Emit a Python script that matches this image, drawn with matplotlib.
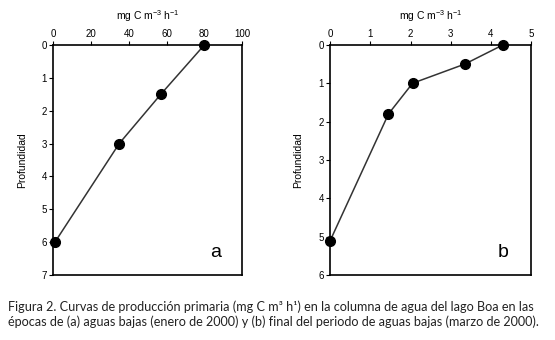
import matplotlib
matplotlib.use("Agg")
import matplotlib.pyplot as plt

# panel a: aguas bajas (enero 2000)
prod_a = [80, 57, 35, 1]
depth_a = [0, 1.5, 3, 6]

# panel b: final aguas bajas (marzo 2000)
prod_b = [4.3, 3.35, 2.05, 1.45, 0]
depth_b = [0, 0.5, 1.0, 1.8, 5.1]

xlabel = "mg C m$^{-3}$ h$^{-1}$"
ylabel = "Profundidad"
caption = ("Figura 2. Curvas de producción primaria (mg C m\u00b3 h\u00b9) en la columna de agua del lago Boa en las\n"
           "épocas de (a) aguas bajas (enero de 2000) y (b) final del periodo de aguas bajas (marzo de 2000).")

plt.rcParams["font.family"] = ["Liberation Sans", "DejaVu Sans"]
plt.rcParams["mathtext.fontset"] = "custom"
plt.rcParams["mathtext.rm"] = "Liberation Sans"

fig = plt.figure(figsize=(5.55, 3.4), dpi=100)


def panel(rect, x, y, xlim, xticks, ylim, yticks, letter, ypad):
    ax = fig.add_axes(rect)
    ax.plot(x, y, color="#333333", lw=1.1, marker="o", ms=7,
            mfc="black", mec="black", clip_on=False, zorder=3)
    ax.set_xlim(*xlim)
    ax.set_ylim(ylim[1], ylim[0])
    ax.set_xticks(xticks)
    ax.set_yticks(yticks)
    ax.xaxis.tick_top()
    ax.xaxis.set_label_position("top")
    ax.tick_params(axis="both", labelsize=7, length=3, width=0.8, pad=1.5)
    ax.set_xlabel(xlabel, fontsize=7.5, labelpad=6)
    ax.set_ylabel(ylabel, fontsize=7.5, labelpad=ypad)
    for s in ax.spines.values():
        s.set_linewidth(1.2)
    ax.text(0.86, 0.1, letter, transform=ax.transAxes, fontsize=14,
            ha="center", va="center")
    return ax


panel([0.0955, 0.191, 0.341, 0.677], prod_a, depth_a, (0, 100),
      [0, 20, 40, 60, 80, 100], (0, 7), range(8), "a", 10)
panel([0.595, 0.191, 0.362, 0.677], prod_b, depth_b, (0, 5),
      [0, 1, 2, 3, 4, 5], (0, 6), range(7), "b", 11)

fig.text(0.014, 0.076, caption, fontsize=9.1, family=["Lato", "DejaVu Sans"],
         ha="left", va="center", linespacing=1.3, color="#222222")

fig.savefig("out.png", dpi=100)
